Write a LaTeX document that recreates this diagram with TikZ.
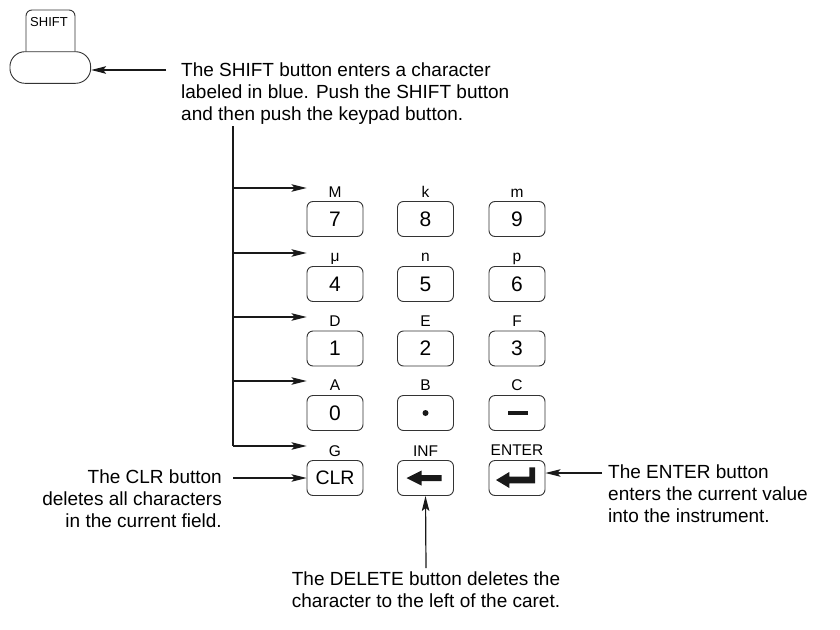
\documentclass[tikz,border=0pt]{standalone}
\usepackage{fontspec}
\setmainfont{Liberation Sans}
\usetikzlibrary{arrows.meta}
\begin{document}
\begin{tikzpicture}[x=1pt,y=-1pt,
  line/.style={draw=black!90, line width=1.2pt},
  conn/.style={line, -{Stealth[length=15pt,width=7.5pt,inset=3pt]}},
  key/.style={draw=black!80, line width=0.9pt, rounded corners=6pt, minimum width=56pt, minimum height=35pt, inner sep=0, font=\fontsize{21}{21}\selectfont},
  klabel/.style={inner sep=0, anchor=base, font=\fontsize{15.5}{16}\selectfont},
  txt/.style={inner sep=0, font=\fontsize{19}{22}\selectfont},
  sym/.style={fill=black!90}]
\useasboundingbox (0,0) rectangle (840,629);

% SHIFT button
\node[draw=black!80, line width=0.9pt, rounded corners=15pt, minimum width=80.7pt, minimum height=31.6pt, inner sep=0] (shift) at (50.3,67.5) {};
\draw[draw=black!80, line width=0.9pt, rounded corners=6pt] (26,51.7) -- (26,10) -- (75,10) -- (75,51.7);
\node[font=\fontsize{13}{13}\selectfont, inner sep=0, anchor=base west] (shiftlbl) at (30,26.7) {SHIFT};
\coordinate (sa) at (166,70);
\draw[conn] (sa) -- (sa -| shift.east);
\node[txt, anchor=north west, align=left] (shifttxt) at (181,63) {The SHIFT button enters a character\\labeled in blue. Push the SHIFT button\\and then push the keypad button.};

% keys
\node[key] (k7) at (335,219) {7};
\node[key] (k8) at (425.5,219) {8};
\node[key] (k9) at (517,219) {9};
\node[key] (k4) at (335,284) {4};
\node[key] (k5) at (425.5,284) {5};
\node[key] (k6) at (517,284) {6};
\node[key] (k1) at (335,348.5) {1};
\node[key] (k2) at (425.5,348.5) {2};
\node[key] (k3) at (517,348.5) {3};
\node[key] (k0) at (335,413) {0};
\node[key] (kdot) at (425.5,413) {};
\node[key] (kmin) at (517,413) {};
\node[key, font=\fontsize{19.5}{20}\selectfont] (kC) at (335,478) {CLR};
\node[key] (kI) at (425.5,478) {};
\node[key] (kE) at (517,478) {};

% symbols
\fill[sym] (kdot.center) circle (3pt);
\begin{scope}[shift={(kmin.center)}]
  \fill[sym] (-9.5,-2.2) rectangle (10.5,2.2);
\end{scope}
\begin{scope}[shift={(kI.center)}]
  \fill[sym] (-19,0) -- (-4,-7.5) -- (-4,-3) -- (16,-3) -- (16,3) -- (-4,3) -- (-4,7.5) -- cycle;
\end{scope}
\begin{scope}[shift={(kE.center)}]
  \fill[sym] (-21,2) -- (-7.7,-6) -- (-7.7,-1.3) -- (12.3,-1.3) -- (12.3,-10.7) -- (18,-10.7) -- (18,5.3) -- (-7.7,5.3) -- (-7.7,10) -- cycle;
\end{scope}

% labels
\node[klabel] (l7) at (335,197) {M};
\node[klabel] (l8) at (425.5,197) {k};
\node[klabel] (l9) at (517,197) {m};
\node[klabel] (l4) at (335,261.7) {μ};
\node[klabel] (l5) at (425.5,261.7) {n};
\node[klabel] (l6) at (517,261.7) {p};
\node[klabel] (l1) at (335,326) {D};
\node[klabel] (l2) at (425.5,326) {E};
\node[klabel] (l3) at (517,326) {F};
\node[klabel] (l0) at (335,390) {A};
\node[klabel] (ldot) at (425.5,390) {B};
\node[klabel] (lmin) at (517,390) {C};
\node[klabel] (lC) at (335,456) {G};
\node[klabel] (lI) at (425.5,456) {INF};
\node[klabel] (lE) at (517,455) {ENTER};

% bus and arrows
\coordinate (bustop) at (233,126);
\coordinate (b7) at (233,188);
\coordinate (b4) at (233,253);
\coordinate (b1) at (233,317);
\coordinate (b0) at (233,381);
\coordinate (bG) at (233,446);
\draw[line] (bustop) -- (bG);
\draw[conn] (b7) -- (b7 -| k7.west);
\draw[conn] (b4) -- (b4 -| k4.west);
\draw[conn] (b1) -- (b1 -| k1.west);
\draw[conn] (b0) -- (b0 -| k0.west);
\draw[conn] (bG) -- (bG -| kC.west);

\coordinate (clrs) at (233,478);
\draw[conn] (clrs) -- (kC.west);
\node[txt, anchor=north east, align=right] (clrtxt) at (222,470) {The CLR button\\deletes all characters\\in the current field.};

\coordinate (ents) at (602,473);
\draw[conn] (ents) -- (ents -| kE.east);
\node[txt, anchor=north west, align=left] (entxt) at (608,465) {The ENTER button\\enters the current value\\into the instrument.};

\coordinate (dels) at (426,568);
\draw[conn] (dels) -- (kI.south);
\node[txt, anchor=north, align=center] (deltxt) at (426,572) {The DELETE button deletes the\\character to the left of the caret.};
\end{tikzpicture}
\end{document}
